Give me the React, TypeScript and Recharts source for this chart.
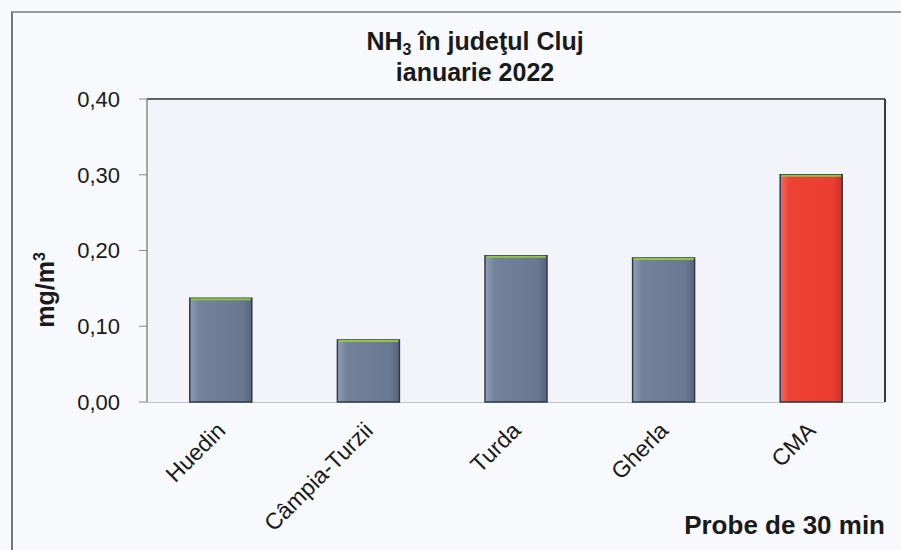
import React from "react";
import { BarChart, Bar, XAxis, YAxis, CartesianGrid, ReferenceLine, Cell, Rectangle } from "recharts";

const categories = ["Huedin", "Câmpia-Turzii", "Turda", "Gherla", "CMA"];
const values = [0.137, 0.082, 0.193, 0.19, 0.3];
const yTicks = [0, 0.1, 0.2, 0.3, 0.4];
const boundaryTicks = [0, 1, 2, 3, 4, 5];

const data = categories.map((name, i) => ({ name, value: values[i] }));

const FONT = "'Liberation Sans', Arial, sans-serif";

const BarShape = (props: any) => {
  const { x, y, width, height, index } = props;
  const isRed = categories[index] === "CMA";
  return (
    <g>
      <Rectangle
        x={x}
        y={y}
        width={width}
        height={height}
        fill={isRed ? "url(#gradRed)" : "url(#gradBlue)"}
        stroke="#2f3a45"
        strokeWidth={1.5}
      />
      <line x1={x + 1} x2={x + width - 1} y1={y + 1} y2={y + 1} stroke="#8fc640" strokeWidth={2} />
    </g>
  );
};

const XTick = (props: any) => {
  const { x, y, payload } = props;
  const ax = x + 6;
  const ay = y + 22;
  return (
    <text
      x={ax}
      y={ay}
      textAnchor="end"
      transform={`rotate(-45, ${ax}, ${ay})`}
      fontFamily={FONT}
      fontSize={23}
      fill="#1a1a1a"
    >
      {payload.value}
    </text>
  );
};

export default function App() {
  return (
    <div style={{ position: "absolute", left: 0, top: 0, width: 901, height: 550, background: "#f8f9fc", overflow: "hidden" }}>
      <div style={{ position: "absolute", left: 11, top: 11, width: 900, height: 560, borderLeft: "2px solid #777", borderTop: "2px solid #999" }} />
      <div style={{ position: "absolute", left: 275, width: 400, top: 26, textAlign: "center", fontFamily: FONT, fontWeight: "bold", fontSize: 25, lineHeight: "31px", color: "#1a1a1a" }}>
        <div>
          NH<sub style={{ fontSize: 16, verticalAlign: "-5px", lineHeight: 0 }}>3</sub> în judeţul Cluj
        </div>
        <div>ianuarie 2022</div>
      </div>
      <div style={{ position: "absolute", right: 16, top: 510, fontFamily: FONT, fontWeight: "bold", fontSize: 26, color: "#1a1a1a" }}>
        Probe de 30 min
      </div>
      <div
        style={{
          position: "absolute",
          left: 45,
          top: 290,
          transform: "translate(-50%, -50%) rotate(-90deg)",
          fontFamily: FONT,
          fontWeight: "bold",
          fontSize: 25,
          color: "#1a1a1a",
          whiteSpace: "nowrap",
        }}
      >
        mg/m<sup style={{ fontSize: 16, verticalAlign: "9px", lineHeight: 0 }}>3</sup>
      </div>
      <div style={{ position: "absolute", left: 0, top: 0 }}>
        <BarChart width={901} height={550} data={data} margin={{ top: 99, right: 16, left: 0, bottom: 0 }} barCategoryGap="29%">
          <defs>
            <linearGradient id="gradBlue" x1="0" y1="0" x2="1" y2="0">
              <stop offset="0%" stopColor="#8fa0b8" />
              <stop offset="15%" stopColor="#73829b" />
              <stop offset="85%" stopColor="#6a7992" />
              <stop offset="100%" stopColor="#55637a" />
            </linearGradient>
            <linearGradient id="gradRed" x1="0" y1="0" x2="1" y2="0">
              <stop offset="0%" stopColor="#f06a5c" />
              <stop offset="15%" stopColor="#ee4234" />
              <stop offset="85%" stopColor="#ec3d30" />
              <stop offset="100%" stopColor="#c8302a" />
            </linearGradient>
          </defs>
          <rect x={147} y={99} width={738} height={303} fill="#f3f4f9" />
          <CartesianGrid horizontal vertical={false} stroke="#8a8a8a" strokeWidth={1.2} />
          <XAxis
            xAxisId="ticks"
            type="number"
            dataKey="value"
            domain={[0, 5]}
            ticks={boundaryTicks}
            allowDataOverflow
            height={0}
            tick={false}
            tickLine={{ stroke: "#777" }}
            tickSize={7}
            axisLine={{ stroke: "#888", strokeWidth: 1.5 }}
          />
          <XAxis
            dataKey="name"
            height={148}
            interval={0}
            tick={<XTick />}
            tickLine={false}
            axisLine={false}
          />
          <YAxis
            width={147}
            domain={[0, 0.4]}
            ticks={yTicks}
            tickFormatter={(v: number) => v.toFixed(2).replace(".", ",")}
            tick={{ fontFamily: FONT, fontSize: 22, fill: "#1a1a1a" }}
            tickSize={8}
            tickMargin={19}
            tickLine={{ stroke: "#888" }}
            axisLine={{ stroke: "#888", strokeWidth: 1.5 }}
          />
          <ReferenceLine y={0.4} stroke="#3a3a3a" strokeWidth={1.5} />
          <Bar dataKey="value" isAnimationActive={false} shape={<BarShape />}>
            {data.map((d, i) => (
              <Cell key={i} />
            ))}
          </Bar>
        </BarChart>
      </div>
      <div style={{ position: "absolute", left: 884, top: 99, width: 1.5, height: 303, background: "#3a3a3a" }} />
    </div>
  );
}
